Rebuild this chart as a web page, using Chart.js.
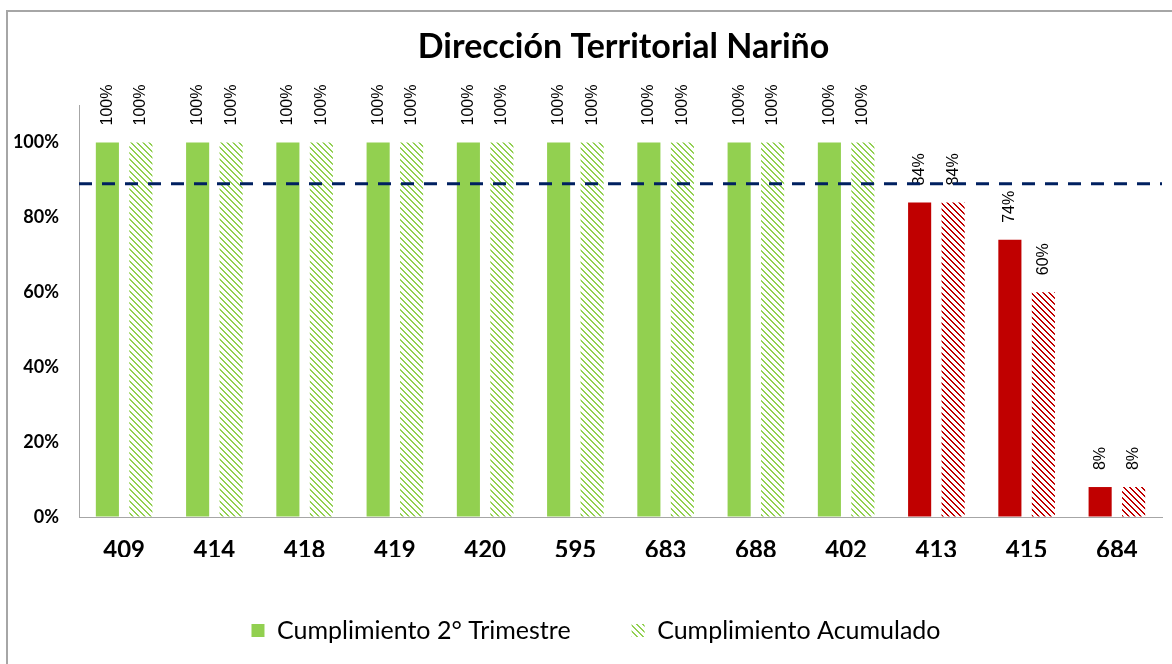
<!DOCTYPE html>
<html>
<head>
<meta charset="utf-8">
<script src="https://cdn.jsdelivr.net/npm/chart.js@4"></script>
<style>
  html, body { margin: 0; padding: 0; background: #fff; }
  #wrap { position: relative; width: 1172px; height: 664px; }
  #frame { position: absolute; left: 6px; top: 10px; width: 1200px; height: 700px;
           border-left: 2px solid #a6a6a6; border-top: 2px solid #a6a6a6; pointer-events: none; }
</style>
</head>
<body>
<div id="wrap">
  <canvas id="grafico" width="1172" height="664"></canvas>
  <div id="frame"></div>
</div>
<script>
// Datos del grafico
const titulo = 'Dirección Territorial Nariño';
const categorias = ['409', '414', '418', '419', '420', '595', '683', '688', '402', '413', '415', '684'];
const trimestre = [100, 100, 100, 100, 100, 100, 100, 100, 100, 84, 74, 8];
const acumulado = [100, 100, 100, 100, 100, 100, 100, 100, 100, 84, 60, 8];
const meta = 89;
const yTicks = [0, 20, 40, 60, 80, 100];

const verde = '#92D050';
const rojo = '#C00000';
const azulMeta = '#002060';

// Patron de rayas diagonales (como el relleno de Excel)
function rayado(color) {
   const c = document.createElement('canvas');
   c.width = 6;
   c.height = 6;
   const x = c.getContext('2d');
   x.fillStyle = '#ffffff';
   x.fillRect(0, 0, 6, 6);
   x.fillStyle = color;
   for (let i = 0; i < 6; i++) {
      x.fillRect(i, i, 1, 1);
      x.fillRect((i + 1) % 6, i, 1, 1);
   }
   return x.createPattern(c, 'repeat');
}

const colorSolido = trimestre.map(v => v < meta ? rojo : verde);
const colorRayado = acumulado.map((v, i) => rayado(trimestre[i] < meta ? rojo : verde));

// Titulo centrado sobre el area del grafico
const tituloPlugin = {
   id: 'tituloPlugin',
   afterDraw(chart) {
      const { ctx, chartArea } = chart;
      ctx.save();
      ctx.fillStyle = '#000';
      ctx.font = 'bold 34px Lato, sans-serif';
      ctx.textAlign = 'center';
      ctx.textBaseline = 'middle';
      ctx.fillText(titulo, (chartArea.left + chartArea.right) / 2 + 3, 47);
      ctx.restore();
   }
};

// Mueve la leyenda un poco a la derecha (centrada como en el original)
const moverLeyenda = {
   id: 'moverLeyenda',
   afterLayout(chart) {
      chart.legend.left += 15;
      chart.legend.right += 15;
   }
};

// Etiquetas verticales encima de cada barra
const etiquetas = {
   id: 'etiquetas',
   afterDatasetsDraw(chart) {
      const ctx = chart.ctx;
      ctx.save();
      ctx.fillStyle = '#000';
      ctx.font = '16px "Liberation Sans", Arial, sans-serif';
      ctx.textAlign = 'left';
      ctx.textBaseline = 'middle';
      chart.data.datasets.forEach((ds, di) => {
         chart.getDatasetMeta(di).data.forEach((el, i) => {
            ctx.save();
            ctx.translate(el.x, el.y - 17);
            ctx.rotate(-Math.PI / 2);
            ctx.fillText(ds.data[i] + '%', 0, 0);
            ctx.restore();
         });
      });
      ctx.restore();
   }
};

// Linea discontinua de la meta
const lineaMeta = {
   id: 'lineaMeta',
   afterDatasetsDraw(chart) {
      const { ctx, chartArea, scales } = chart;
      const y = scales.y.getPixelForValue(meta);
      ctx.save();
      ctx.strokeStyle = azulMeta;
      ctx.lineWidth = 3;
      ctx.setLineDash([13, 10]);
      ctx.beginPath();
      ctx.moveTo(chartArea.left, y);
      ctx.lineTo(chartArea.right, y);
      ctx.stroke();
      ctx.restore();
   }
};

const grafico = document.getElementById('grafico').getContext('2d');
const chart = new Chart(grafico, {
   type: 'bar',
   data: {
      labels: categorias,
      datasets: [
         {
            label: 'Cumplimiento 2° Trimestre',
            data: trimestre,
            backgroundColor: colorSolido,
            categoryPercentage: 0.742,
            barPercentage: 0.69
         },
         {
            label: 'Cumplimiento Acumulado',
            data: acumulado,
            backgroundColor: colorRayado,
            categoryPercentage: 0.742,
            barPercentage: 0.69
         }
      ]
   },
   options: {
      responsive: false,
      animation: false,
      layout: { padding: { left: 0, right: 10, top: 105, bottom: 11 } },
      plugins: {
         title: { display: false },
         legend: {
            position: 'bottom',
            labels: {
               color: '#000',
               font: { family: 'Lato, sans-serif', size: 25 },
               boxWidth: 13,
               boxHeight: 13,
               padding: 61,
               generateLabels: () => [
                  { text: 'Cumplimiento 2° Trimestre', fillStyle: verde, strokeStyle: verde, lineWidth: 0, datasetIndex: 0 },
                  { text: 'Cumplimiento Acumulado', fillStyle: rayado(verde), strokeStyle: verde, lineWidth: 0, datasetIndex: 1 }
               ]
            }
         },
         tooltip: { enabled: false }
      },
      scales: {
         x: {
            grid: { display: false, drawTicks: false },
            border: { color: '#a6a6a6', width: 1 },
            ticks: {
               color: '#000',
               padding: 19,
               font: { family: 'Lato, sans-serif', size: 24, weight: 'bold' }
            },
            afterFit: s => { s.height = 40; }
         },
         y: {
            min: 0,
            max: 110,
            grid: { color: 'transparent', drawTicks: false },
            border: { color: '#a6a6a6', width: 1 },
            afterBuildTicks: s => { s.ticks = yTicks.map(v => ({ value: v })); },
            ticks: {
               color: '#000',
               padding: 20,
               font: { family: 'Lato, sans-serif', size: 18, weight: 'bold' },
               callback: v => v + '%'
            },
            afterFit: s => { s.width = 79; }
         }
      }
   },
   plugins: [moverLeyenda, etiquetas, lineaMeta, tituloPlugin]
});
</script>
</body>
</html>
